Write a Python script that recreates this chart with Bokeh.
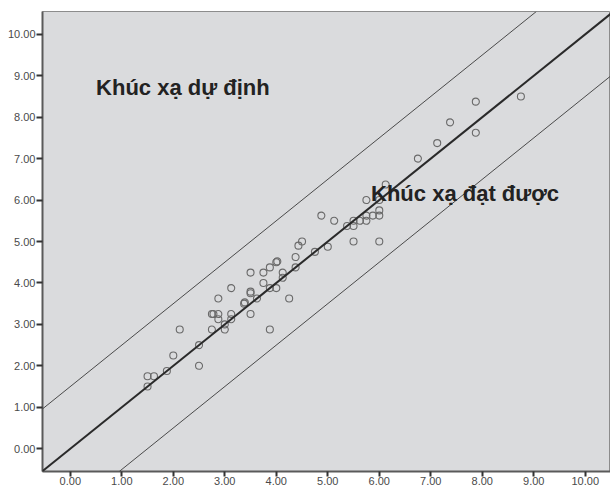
from bokeh.plotting import figure
from bokeh.models import ColumnDataSource, FixedTicker, NumeralTickFormatter, Slope, Label, Range1d
from bokeh.embed import file_html
from bokeh.resources import INLINE

# Data (x: planned refraction, y: achieved refraction)
x_vals = [1.5, 1.5, 1.625, 1.875, 2.0, 2.125, 2.5, 2.5, 2.75, 2.78, 2.75, 2.875, 2.875, 2.875,
          3.0, 3.0, 3.125, 3.125, 3.125, 3.375, 3.39, 3.5, 3.5, 3.5, 3.5, 3.625, 3.75, 3.75,
          3.875, 3.875, 3.875, 4.0, 4.02, 4.0, 4.125, 4.125, 4.25, 4.375, 4.375, 4.43, 4.5,
          4.75, 5.0, 4.875, 5.125, 5.375, 5.5, 5.5, 5.625, 5.75, 5.75, 5.875, 6.0, 6.0, 6.0,
          5.75, 6.125, 5.5, 6.0, 6.75, 7.125, 7.375, 7.875, 7.875, 8.75]
y_vals = [1.5, 1.75, 1.75, 1.875, 2.25, 2.875, 2.5, 2.0, 3.25, 3.25, 2.875, 3.25, 3.125, 3.625,
          3.0, 2.875, 3.25, 3.125, 3.875, 3.5, 3.53, 3.25, 3.75, 3.79, 4.25, 3.625, 4.0, 4.25,
          2.875, 4.375, 3.875, 4.5, 4.52, 3.875, 4.25, 4.125, 3.625, 4.625, 4.375, 4.9, 5.0,
          4.75, 4.875, 5.625, 5.5, 5.375, 5.375, 5.5, 5.5, 5.5, 5.625, 5.625, 5.625, 5.75, 6.0,
          6.0, 6.375, 5.0, 5.0, 7.0, 7.375, 7.875, 7.625, 8.375, 8.5]

tick_values = [0, 1, 2, 3, 4, 5, 6, 7, 8, 9, 10]
ref_intercepts = [1.5, -1.5]
labels = ["Khúc xạ dự định", "Khúc xạ đạt được"]

src = ColumnDataSource(dict(x=x_vals, y=y_vals))

p = figure(width=610, height=488, output_backend="svg", toolbar_location=None,
           x_range=Range1d(-0.54, 10.49), y_range=Range1d(-0.55, 10.55),
           min_border_left=42, min_border_right=0, min_border_top=11, min_border_bottom=17)

p.background_fill_color = "#dadbdd"
p.border_fill_color = "white"
p.outline_line_color = "#8c8c8c"
p.outline_line_width = 1
p.xgrid.visible = False
p.ygrid.visible = False

for ax in (p.xaxis[0], p.yaxis[0]):
    ax.ticker = FixedTicker(ticks=tick_values)
    ax.formatter = NumeralTickFormatter(format="0.00")
    ax.axis_line_color = "#5a5a5a"
    ax.axis_line_width = 2
    ax.major_tick_line_color = "#333333"
    ax.major_tick_line_width = 2
    ax.major_tick_out = 6
    ax.major_tick_in = 0
    ax.minor_tick_line_color = None
    ax.major_label_text_font = "Liberation Sans"
    ax.major_label_text_font_size = "11px"
    ax.major_label_text_color = "#4a4a4a"
    ax.major_label_standoff = 1

p.xaxis[0].major_tick_out = 5
p.xaxis[0].major_label_standoff = 0

# reference lines
p.add_layout(Slope(gradient=1, y_intercept=0, line_color="#2a2a2a", line_width=2))
for b in ref_intercepts:
    p.add_layout(Slope(gradient=1, y_intercept=b, line_color="#4a4a4a", line_width=1))

p.scatter("x", "y", source=src, marker="circle", size=7, fill_color=None,
          line_color="#6a6a6a", line_width=1.1)

p.add_layout(Label(x=0.5, y=8.72, text=labels[0], text_font="Liberation Sans",
                   text_font_style="bold", text_font_size="22px", text_color="#222222",
                   text_baseline="alphabetic"))
p.add_layout(Label(x=5.84, y=6.17, text=labels[1], text_font="Liberation Sans",
                   text_font_style="bold", text_font_size="22px", text_color="#222222",
                   text_baseline="alphabetic"))

open("out.html", "w").write(file_html(p, INLINE))
